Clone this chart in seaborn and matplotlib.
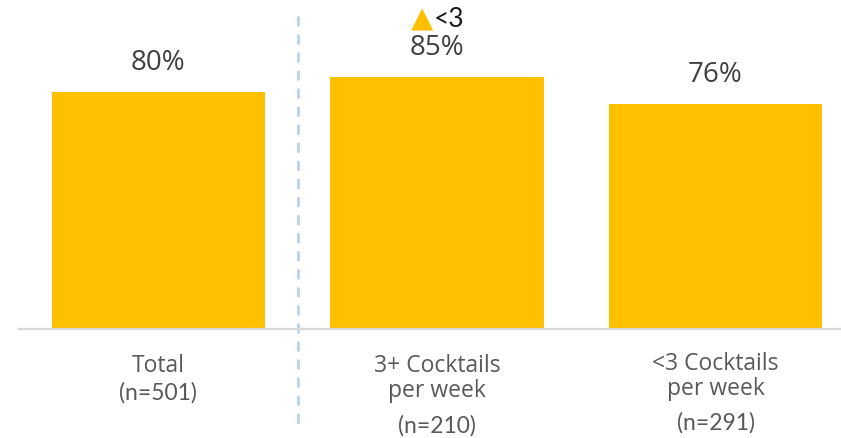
import matplotlib
matplotlib.use("Agg")
import matplotlib.pyplot as plt
import matplotlib.transforms as mtransforms
import seaborn as sns
import pandas as pd

# Share of respondents per group
categories = ["Total", "3+ Cocktails per week", "<3 Cocktails per week"]
label_lines = [["Total"], ["3+ Cocktails", "per week"], ["<3 Cocktails", "per week"]]
sample_sizes = ["(n=501)", "(n=210)", "(n=291)"]
values = [80, 85, 76]

BAR = "#FFC000"
TEXT = "#595959"
VALUE_TEXT = "#404040"

sns.set_theme(style="white")
plt.rcParams["font.family"] = ["Open Sans", "DejaVu Sans"]

W, H = 841, 438
fig = plt.figure(figsize=(W / 100, H / 100), dpi=100)
ax = fig.add_axes([19 / W, 1 - 329 / H, (841 - 19) / W, (329 - 33) / H])

df = pd.DataFrame({"group": categories, "value": values})
sns.barplot(data=df, x="group", y="value", color=BAR, saturation=1,
            width=0.765, ax=ax, edgecolor="none")

ax.set_xlim(-0.5, 2.45)
ax.set_ylim(0, 100)
for s in ["top", "right", "left"]:
    ax.spines[s].set_visible(False)
ax.spines["bottom"].set_color("#D9D9D9")
ax.spines["bottom"].set_linewidth(1.6)
ax.set_xticks([])
ax.set_yticks([])
ax.set_xlabel("")
ax.set_ylabel("")

# value labels above the bars
for i, v in enumerate(values):
    ax.annotate(f"{v}%", xy=(i, v), xytext=(0, 16), textcoords="offset points",
                ha="center", va="baseline", fontsize=20, color=VALUE_TEXT)

# significance marker above the 3+ group
tr_px = mtransforms.blended_transform_factory(ax.transData, fig.transFigure)
fig.text(422 / W, 1 - 27 / H, "▲", ha="center", va="baseline", fontsize=21,
         color=BAR, family="DejaVu Sans")
fig.text(434 / W, 1 - 27 / H, "<3", ha="left", va="baseline", fontsize=19,
         color="#1A1A1A", family="Lato")

# category labels and sample sizes under the axis
first_base = [372, 372, 370]
second_base = [None, 397, 395]
n_base = [400, 433, 430]
for i in range(len(categories)):
    lines = label_lines[i]
    ax.text(i, 1 - first_base[i] / H, lines[0], transform=tr_px, ha="center",
            va="baseline", fontsize=16.5, color=TEXT)
    if len(lines) > 1:
        ax.text(i, 1 - second_base[i] / H, lines[1], transform=tr_px, ha="center",
                va="baseline", fontsize=16.5, color=TEXT)
    ax.text(i, 1 - n_base[i] / H, sample_sizes[i], transform=tr_px, ha="center",
            va="baseline", fontsize=16.5, color=TEXT, family="Lato")

# divider between the total and the split groups
ax.plot([0.5, 0.5], [1 - 16 / H, 1 - 428 / H], transform=tr_px, color="#B9D3EC",
        lw=2.0, ls=(0, (3.6, 2.9)), clip_on=False)

fig.savefig("out.png", dpi=100)
